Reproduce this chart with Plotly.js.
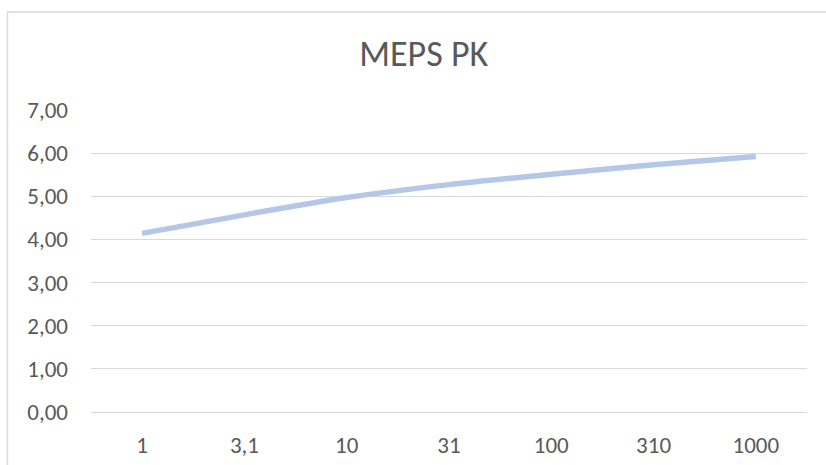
<!DOCTYPE html>
<html>
<head>
<meta charset="utf-8">
<script src="https://cdn.plot.ly/plotly-3.0.1.min.js"></script>
<style>html,body{margin:0;padding:0;background:#fff;}#chart{width:826px;height:465px;}</style>
</head>
<body>
<div id="chart"></div>
<script>
const categories = ['1', '3,1', '10', '31', '100', '310', '1000'];
const mepsPK = [4.14, 4.57, 4.97, 5.27, 5.51, 5.73, 5.92];
const yTickValues = [0, 1, 2, 3, 4, 5, 6, 7];
const chartTitle = 'MEPS PK';

const fontFamily = "Carlito, Calibri, 'Liberation Sans Narrow', 'Open Sans', sans-serif";
const textColor = '#595959';

Plotly.newPlot('chart', [{
  x: categories,
  y: mepsPK,
  type: 'scatter',
  mode: 'lines',
  line: { color: '#b4c7e7', width: 5.5, shape: 'spline', smoothing: 0.8 },
  hoverinfo: 'skip'
}], {
  width: 826,
  height: 465,
  margin: { l: 91, r: 19, t: 110, b: 53 },
  paper_bgcolor: '#ffffff',
  plot_bgcolor: '#ffffff',
  separators: ',.',
  showlegend: false,
  title: {
    text: chartTitle,
    font: { family: fontFamily, size: 36, color: textColor },
    x: 0.513, xref: 'container', xanchor: 'center',
    y: 0.886, yref: 'container', yanchor: 'middle'
  },
  xaxis: {
    type: 'category',
    range: [-0.5, 6.5],
    showgrid: false,
    showline: false,
    zeroline: false,
    ticks: '',
    tickfont: { family: fontFamily, size: 23, color: textColor },
    ticklabelstandoff: 17
  },
  yaxis: {
    range: [0, 7],
    tickvals: yTickValues,
    tickformat: '.2f',
    showgrid: true,
    gridcolor: '#d9d9d9',
    gridwidth: 1,
    zeroline: true,
    zerolinecolor: '#d9d9d9',
    zerolinewidth: 1,
    showline: false,
    ticks: '',
    tickfont: { family: fontFamily, size: 23, color: textColor },
    ticklabelstandoff: 22
  },
  shapes: [{
    type: 'path',
    xref: 'paper', yref: 'paper',
    path: 'M -0.1166,-0.25 L -0.1166,1.3245 L 1.2,1.3245',
    line: { color: '#d9d9d9', width: 1.5 }
  }]
}, { displayModeBar: false, staticPlot: true });
</script>
</body>
</html>
